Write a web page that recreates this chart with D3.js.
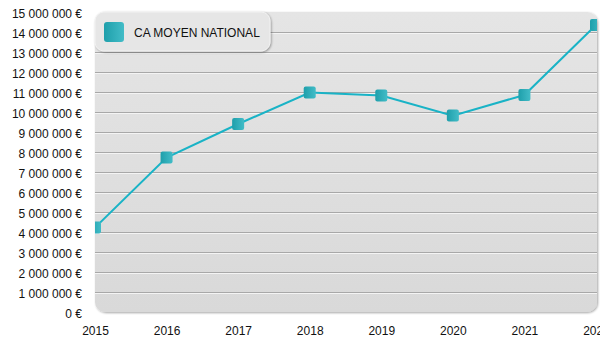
<!DOCTYPE html>
<html>
<head>
<meta charset="utf-8">
<script src="https://cdn.jsdelivr.net/npm/d3@7"></script>
<style>
  html, body { margin: 0; padding: 0; background: #fff; }
  svg { display: block; font-family: "Liberation Sans", Arial, sans-serif; }
</style>
</head>
<body>
<svg id="chart" width="600" height="350"></svg>
<script>
// Chiffre d'affaires moyen national par année
const years = ["2015", "2016", "2017", "2018", "2019", "2020", "2021", "2022"];
const caMoyen = [4220000, 7720000, 9400000, 10970000, 10820000, 9820000, 10850000, 14350000];
const yTicks = d3.range(0, 15000001, 1000000);
const seriesName = "CA MOYEN NATIONAL";

const W = 600, H = 350;
const margin = { top: 12, right: 4, bottom: 38, left: 95 };
const innerW = W - margin.left - margin.right;
const innerH = H - margin.top - margin.bottom;

const svg = d3.select("#chart");
const defs = svg.append("defs");

const bgGrad = defs.append("linearGradient").attr("id", "bgGrad")
  .attr("x1", 0).attr("y1", 0).attr("x2", 0).attr("y2", 1);
bgGrad.append("stop").attr("offset", "0%").attr("stop-color", "#e5e5e5");
bgGrad.append("stop").attr("offset", "100%").attr("stop-color", "#d9d9d9");

const markGrad = defs.append("linearGradient").attr("id", "markGrad")
  .attr("x1", 0).attr("y1", 0).attr("x2", 1).attr("y2", 0);
markGrad.append("stop").attr("offset", "0%").attr("stop-color", "#1e9fab");
markGrad.append("stop").attr("offset", "100%").attr("stop-color", "#42bcc7");

const shadow = defs.append("filter").attr("id", "shadow")
  .attr("x", "-5%").attr("y", "-5%").attr("width", "110%").attr("height", "115%");
shadow.append("feDropShadow").attr("dx", 1).attr("dy", 1).attr("stdDeviation", 0.8)
  .attr("flood-color", "#000").attr("flood-opacity", 0.35);

defs.append("clipPath").attr("id", "plotClip")
  .append("rect").attr("x", 0).attr("y", 0).attr("width", innerW + 1).attr("height", innerH);

const x = d3.scalePoint().domain(years).range([0, innerW]);
const y = d3.scaleLinear().domain([0, 15000000]).range([innerH, 0]);

const g = svg.append("g").attr("transform", `translate(${margin.left},${margin.top})`);

// fond de la zone de tracé
g.append("rect")
  .attr("x", 0).attr("y", 0).attr("width", innerW + 1).attr("height", innerH)
  .attr("rx", 10).attr("ry", 10)
  .attr("fill", "url(#bgGrad)")
  .attr("filter", "url(#shadow)");

// lignes de grille en relief
const gridTicks = yTicks.filter(d => d > 0 && d < 15000000);
g.append("g").selectAll("line.hi").data(gridTicks).join("line")
  .attr("x1", 0).attr("x2", innerW + 1)
  .attr("y1", d => Math.round(y(d)) + 1.5).attr("y2", d => Math.round(y(d)) + 1.5)
  .attr("stroke", "#f4f4f4").attr("stroke-width", 1);
g.append("g").selectAll("line.grid").data(gridTicks).join("line")
  .attr("x1", 0).attr("x2", innerW + 1)
  .attr("y1", d => Math.round(y(d)) + 0.5).attr("y2", d => Math.round(y(d)) + 0.5)
  .attr("stroke", "#a8a8a8").attr("stroke-width", 1);

// axe vertical
const fmt = v => (v === 0 ? "0" : d3.format(",")(v).replace(/,/g, " ")) + " €";
const yAxis = g.append("g")
  .attr("transform", "translate(-13,1.5)")
  .call(d3.axisLeft(y).tickValues(yTicks).tickFormat(fmt).tickSize(0).tickPadding(0));
yAxis.select(".domain").remove();
yAxis.selectAll("text").attr("font-size", 12).attr("fill", "#111")
  .attr("font-family", "'Liberation Sans', Arial, sans-serif");

// axe horizontal
const xAxis = g.append("g")
  .attr("transform", `translate(0,${innerH + 14})`)
  .call(d3.axisBottom(x).tickSize(0).tickPadding(0));
xAxis.select(".domain").remove();
xAxis.selectAll("text").attr("font-size", 12).attr("fill", "#111")
  .attr("font-family", "'Liberation Sans', Arial, sans-serif");

// série
const data = years.map((yr, i) => ({ year: yr, value: caMoyen[i] }));
const plot = g.append("g").attr("clip-path", "url(#plotClip)");

plot.append("path")
  .datum(data)
  .attr("fill", "none")
  .attr("stroke", "#19b3c6")
  .attr("stroke-width", 2)
  .attr("d", d3.line().x(d => x(d.year)).y(d => y(d.value)));

const ms = 12;
plot.selectAll("rect.marker").data(data).join("rect")
  .attr("class", "marker")
  .attr("x", d => x(d.year) - ms / 2)
  .attr("y", d => y(d.value) - ms / 2)
  .attr("width", ms).attr("height", ms)
  .attr("rx", 2).attr("ry", 2)
  .attr("fill", "url(#markGrad)");

// légende
const leg = svg.append("g").attr("transform", "translate(95,12)");
leg.append("rect")
  .attr("x", 0).attr("y", 0).attr("width", 175).attr("height", 39)
  .attr("rx", 9).attr("ry", 9)
  .attr("fill", "#e6e6e6")
  .attr("stroke", "#f2f2f2").attr("stroke-width", 1)
  .attr("filter", "url(#shadow)");
leg.append("rect")
  .attr("x", 9).attr("y", 10).attr("width", 20).attr("height", 20)
  .attr("rx", 3).attr("ry", 3)
  .attr("fill", "url(#markGrad)");
leg.append("text")
  .attr("x", 39).attr("y", 25)
  .attr("font-size", 12).attr("fill", "#111")
  .text(seriesName);
</script>
</body>
</html>
